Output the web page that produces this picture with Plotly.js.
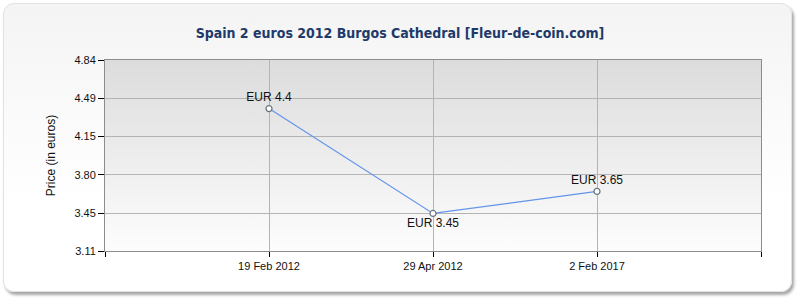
<!DOCTYPE html>
<html>
<head>
<meta charset="utf-8">
<script src="https://cdn.plot.ly/plotly-3.0.1.min.js"></script>
<style>
  html, body { margin: 0; padding: 0; background: #ffffff; }
  #card {
    position: absolute; left: 3px; top: 3px; width: 787px; height: 287px;
    border-radius: 11px;
    background: linear-gradient(#f4f4f4, #ffffff 70%);
    box-shadow: 2px 3px 3px rgba(0,0,0,0.35);
    border: 1px solid #e2e2e2;
  }
  #chart { position: absolute; left: 0; top: 0; width: 800px; height: 300px; }
</style>
</head>
<body>
<div id="card"></div>
<div id="chart"></div>
<script>
const chartTitle = 'Spain 2 euros 2012 Burgos Cathedral [Fleur-de-coin.com]';
const dates = ['19 Feb 2012', '29 Apr 2012', '2 Feb 2017'];
const prices = [4.4, 3.45, 3.65];
const priceLabels = ['EUR 4.4', 'EUR 3.45', 'EUR 3.65'];
const labelPositions = ['top center', 'bottom center', 'top center'];
const yTickVals = [3.11, 3.45, 3.80, 4.15, 4.49, 4.84];
const yTickText = ['3.11', '3.45', '3.80', '4.15', '4.49', '4.84'];

const grad = 'data:image/svg+xml;utf8,' + encodeURIComponent(
  '<svg xmlns="http://www.w3.org/2000/svg" width="100" height="100" preserveAspectRatio="none">' +
  '<defs><linearGradient id="g" x1="0" y1="0" x2="0" y2="1">' +
  '<stop offset="0" stop-color="#dcdcdc"/><stop offset="1" stop-color="#fdfdfd"/>' +
  '</linearGradient></defs><rect width="100" height="100" fill="url(#g)"/></svg>');

const trace = {
  x: dates,
  y: prices,
  type: 'scatter',
  mode: 'lines+markers+text',
  text: priceLabels,
  textposition: labelPositions,
  textfont: { family: 'Liberation Sans, Arial, sans-serif', size: 12, color: '#111' },
  line: { color: '#6394ec', width: 1.2 },
  marker: { size: 6, color: '#ffffff', line: { color: '#6a7380', width: 1.2 } },
  cliponaxis: false,
  hoverinfo: 'x+y'
};

const layout = {
  width: 800, height: 300,
  paper_bgcolor: 'rgba(0,0,0,0)',
  plot_bgcolor: 'rgba(0,0,0,0)',
  margin: { l: 105, r: 39, t: 60, b: 49 },
  showlegend: false,
  title: {
    text: chartTitle,
    x: 0.5, xanchor: 'center', y: 0.89, yanchor: 'middle',
    font: { family: 'DejaVu Sans Condensed, DejaVu Sans, sans-serif', size: 14, color: '#1d3a6a', weight: 'bold' }
  },
  images: [{
    source: grad, xref: 'paper', yref: 'paper', x: 0, y: 1, sizex: 1, sizey: 1,
    xanchor: 'left', yanchor: 'top', sizing: 'stretch', layer: 'below'
  }],
  xaxis: {
    type: 'category',
    range: [-1, 3],
    tickmode: 'array',
    tickvals: [-1].concat(dates, [3]),
    ticktext: [''].concat(dates, ['']),
    showgrid: true, gridcolor: '#b4b4b4', gridwidth: 1,
    showline: true, linecolor: '#8c8c8c', linewidth: 1, mirror: true,
    ticks: 'outside', ticklen: 5, tickcolor: '#000', tickwidth: 1,
    tickfont: { family: 'Liberation Sans, Arial, sans-serif', size: 11, color: '#111' },
    zeroline: false, fixedrange: true
  },
  yaxis: {
    range: [3.11, 4.84],
    tickmode: 'array',
    tickvals: yTickVals,
    ticktext: yTickText,
    showgrid: true, gridcolor: '#b4b4b4', gridwidth: 1,
    showline: true, linecolor: '#8c8c8c', linewidth: 1, mirror: true,
    ticks: 'outside', ticklen: 6, tickcolor: '#000', tickwidth: 1,
    tickfont: { family: 'Liberation Sans, Arial, sans-serif', size: 11, color: '#111' },
    title: { text: 'Price (in euros)', standoff: 16, font: { family: 'Liberation Sans, Arial, sans-serif', size: 12, color: '#111' } },
    zeroline: false, fixedrange: true
  }
};

Plotly.newPlot('chart', [trace], layout, { staticPlot: true, displayModeBar: false });
</script>
</body>
</html>
